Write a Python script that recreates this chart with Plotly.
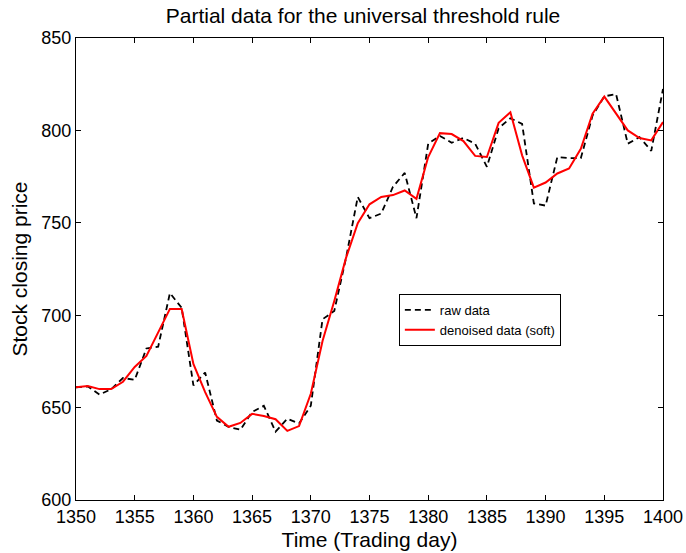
import plotly.graph_objects as go

days = list(range(1350, 1401))
raw_data = [661, 661.5, 657, 660, 666, 665, 682, 683, 712, 704,
            662, 669, 643, 639.6, 638, 647.6, 651, 637, 644, 641.4,
            651, 697.8, 702.3, 731, 764, 752.5, 755, 769.5, 777, 752.5,
            792.8, 797, 793.3, 795.9, 792.8, 780.3, 801.2, 806.6, 803.5, 760.5,
            759.3, 785.6, 785, 785, 808, 818.4, 819.7, 792.8, 796.4, 788.9,
            822.4]
denoised_soft = [661, 661.7, 660, 660, 664, 672, 678, 690.6, 703.4, 703.4,
                 673.6, 658.4, 645, 639.6, 641.7, 646.6, 645.5, 643.7, 637.4, 640,
                 657.5, 686, 707.7, 731, 749.8, 760, 764, 765, 767.5, 763,
                 785.6, 798.5, 798, 794.2, 786.2, 785.6, 804.1, 809.8, 786.5, 769,
                 771.8, 776.7, 779.4, 790, 809, 818.3, 809.3, 800, 795.9, 794.6,
                 804.5]
x_ticks = [1350, 1355, 1360, 1365, 1370, 1375, 1380, 1385, 1390, 1395, 1400]
y_ticks = [600, 650, 700, 750, 800, 850]

FONT = "Liberation Sans, Arial, sans-serif"

fig = go.Figure()
fig.add_trace(go.Scatter(x=days, y=raw_data, mode="lines", name="raw data",
                         line=dict(color="black", width=1.8, dash="6px,4px")))
fig.add_trace(go.Scatter(x=days, y=denoised_soft, mode="lines", name="denoised data (soft)",
                         line=dict(color="#ff0000", width=2)))

axis_common = dict(showline=True, linecolor="black", linewidth=1, mirror="allticks",
                   ticks="inside", ticklen=5, tickcolor="black", showgrid=False,
                   zeroline=False, automargin=False,
                   tickfont=dict(size=18, color="black", family=FONT))

fig.update_layout(
    width=686, height=553,
    paper_bgcolor="white", plot_bgcolor="white",
    margin=dict(l=76, r=23, t=38, b=53),
    font=dict(family=FONT, color="black"),
    title=dict(text="Partial data for the universal threshold rule",
               xref="paper", x=0.489, xanchor="center",
               yref="container", y=0.971, yanchor="middle",
               font=dict(size=21, color="black", family=FONT)),
    xaxis=dict(range=[1350, 1400], tickvals=x_ticks,
               title=dict(text="Time (Trading day)", font=dict(size=21, family=FONT), standoff=6),
               **axis_common),
    yaxis=dict(range=[600, 850], tickvals=y_ticks,
               title=dict(text="Stock closing price", font=dict(size=21, family=FONT), standoff=8),
               **axis_common),
    showlegend=True,
    legend=dict(x=0.55, y=0.446, xanchor="left", yanchor="top",
                bgcolor="white", bordercolor="black", borderwidth=1,
                font=dict(size=13, color="black", family=FONT),
                tracegroupgap=0, itemwidth=30),
)

fig.write_html("out.html")
